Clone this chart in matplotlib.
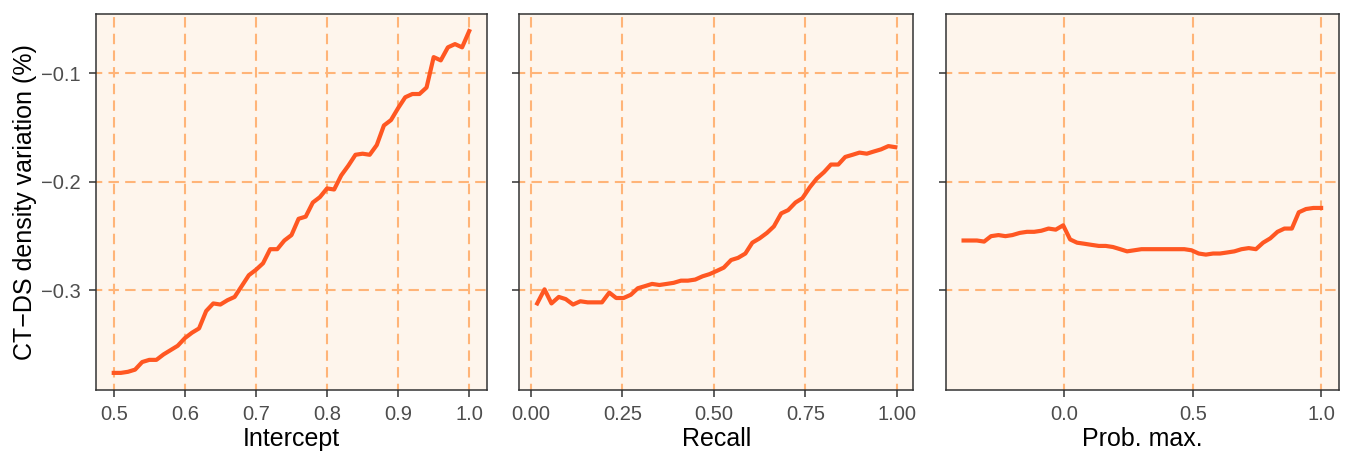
import matplotlib
matplotlib.use("Agg")
import matplotlib.pyplot as plt

BG = "#FFFFFF"
PANEL_BG = "#FEF5EC"
GRID = "#FFB478"
LINE = "#FF5722"
EDGE = "#333333"
TICK_TEXT = "#4D4D4D"

# Intercept panel
intercept_x = [0.50, 0.51, 0.52, 0.53, 0.54, 0.55, 0.56, 0.57, 0.58, 0.59,
               0.60, 0.61, 0.62, 0.63, 0.64, 0.65, 0.66, 0.67, 0.68, 0.69,
               0.70, 0.71, 0.72, 0.73, 0.74, 0.75, 0.76, 0.77, 0.78, 0.79,
               0.80, 0.81, 0.82, 0.83, 0.84, 0.85, 0.86, 0.87, 0.88, 0.89,
               0.90, 0.91, 0.92, 0.93, 0.94, 0.95, 0.96, 0.97, 0.98, 0.99, 1.00]
intercept_y = [-0.376, -0.376, -0.375, -0.373, -0.366, -0.364, -0.364, -0.359, -0.355, -0.351,
               -0.344, -0.339, -0.335, -0.319, -0.312, -0.313, -0.309, -0.306, -0.296, -0.286,
               -0.281, -0.275, -0.262, -0.262, -0.254, -0.249, -0.234, -0.232, -0.219, -0.214,
               -0.206, -0.207, -0.194, -0.185, -0.175, -0.174, -0.175, -0.166, -0.148, -0.143,
               -0.132, -0.122, -0.119, -0.119, -0.113, -0.085, -0.088, -0.076, -0.073, -0.076, -0.061]

# Recall panel
recall_x = [0.017, 0.037, 0.056, 0.076, 0.095, 0.115, 0.135, 0.155, 0.174, 0.194,
            0.214, 0.233, 0.253, 0.273, 0.292, 0.312, 0.331, 0.351, 0.371, 0.390,
            0.410, 0.429, 0.449, 0.469, 0.488, 0.508, 0.527, 0.547, 0.566, 0.586,
            0.605, 0.625, 0.645, 0.664, 0.684, 0.703, 0.723, 0.742, 0.762, 0.781,
            0.801, 0.820, 0.840, 0.859, 0.879, 0.898, 0.918, 0.937, 0.957, 0.977, 0.996]
recall_y = [-0.312, -0.299, -0.312, -0.306, -0.308, -0.313, -0.310, -0.311, -0.311, -0.311,
            -0.302, -0.307, -0.307, -0.304, -0.298, -0.296, -0.294, -0.295, -0.294, -0.293,
            -0.291, -0.291, -0.290, -0.287, -0.285, -0.282, -0.279, -0.272, -0.270, -0.266,
            -0.256, -0.252, -0.247, -0.241, -0.229, -0.226, -0.219, -0.215, -0.205, -0.197,
            -0.191, -0.184, -0.184, -0.177, -0.175, -0.173, -0.174, -0.172, -0.170, -0.167, -0.168]

# Prob. max. panel
probmax_x = [-0.393, -0.369, -0.341, -0.313, -0.286, -0.257, -0.230, -0.203, -0.174, -0.146,
             -0.118, -0.090, -0.062, -0.034, -0.005, 0.022, 0.049, 0.078, 0.105, 0.134,
             0.161, 0.189, 0.217, 0.244, 0.272, 0.300, 0.328, 0.356, 0.384, 0.411,
             0.440, 0.467, 0.495, 0.523, 0.551, 0.579, 0.606, 0.635, 0.662, 0.690,
             0.718, 0.746, 0.774, 0.802, 0.830, 0.857, 0.886, 0.913, 0.941, 0.970, 1.000]
probmax_y = [-0.254, -0.254, -0.254, -0.255, -0.250, -0.249, -0.250, -0.249, -0.247, -0.246,
             -0.246, -0.245, -0.243, -0.244, -0.240, -0.253, -0.256, -0.257, -0.258, -0.259,
             -0.259, -0.260, -0.262, -0.264, -0.263, -0.262, -0.262, -0.262, -0.262, -0.262,
             -0.262, -0.262, -0.263, -0.266, -0.267, -0.266, -0.266, -0.265, -0.264, -0.262,
             -0.261, -0.262, -0.256, -0.252, -0.246, -0.243, -0.243, -0.228, -0.225, -0.224, -0.224]

PANELS = [
    ("Intercept", intercept_x, intercept_y, [0.5, 0.6, 0.7, 0.8, 0.9, 1.0],
     ["0.5", "0.6", "0.7", "0.8", "0.9", "1.0"]),
    ("Recall", recall_x, recall_y, [0.0, 0.25, 0.5, 0.75, 1.0],
     ["0.00", "0.25", "0.50", "0.75", "1.00"]),
    ("Prob. max.", probmax_x, probmax_y, [0.0, 0.5, 1.0],
     ["0.0", "0.5", "1.0"]),
]
Y_TICKS = [-0.3, -0.2, -0.1]
Y_TICK_LABELS = ["\u22120.3", "\u22120.2", "\u22120.1"]

plt.rcParams.update({
    "font.family": ["Liberation Sans", "DejaVu Sans"],
    "figure.facecolor": BG,
    "savefig.facecolor": BG,
})

fig = plt.figure(figsize=(13.46, 4.51), dpi=100)
lefts = [0.0713, 0.3858, 0.7026]
widths = [0.2905, 0.2927, 0.2922]

all_y = intercept_y + recall_y + probmax_y
ymin, ymax = min(all_y), max(all_y)
ypad = 0.05 * (ymax - ymin)

for idx, (label, xs, ys, xticks, xticklabels) in enumerate(PANELS):
    ax = fig.add_axes([lefts[idx], 0.1353, widths[idx], 0.8337])
    ax.set_facecolor(PANEL_BG)
    ax.plot(xs, ys, color=LINE, linewidth=3.0, solid_joinstyle="round", zorder=3)

    xpad = 0.05 * (max(xs) - min(xs))
    ax.set_xlim(min(xs) - xpad, max(xs) + xpad)
    ax.set_ylim(ymin - ypad, ymax + ypad)

    ax.set_xticks(xticks)
    ax.set_xticklabels(xticklabels)
    ax.set_yticks(Y_TICKS)
    if idx == 0:
        ax.set_yticklabels(Y_TICK_LABELS)
        ax.set_ylabel("CT\u2212DS density variation (%)", fontsize=18,
                      color="black", labelpad=3)
    else:
        ax.set_yticklabels([])

    ax.grid(True, color=GRID, linestyle=(2, (5, 3)), linewidth=1.5, zorder=1)
    ax.set_axisbelow(True)
    ax.tick_params(colors=EDGE, labelcolor=TICK_TEXT, labelsize=14.5,
                   length=5, width=1.1, pad=6)
    ax.set_xlabel(label, fontsize=18, color="black", labelpad=2)
    for spine in ax.spines.values():
        spine.set_color(EDGE)
        spine.set_linewidth(1.1)

fig.savefig("out.png", dpi=100)
